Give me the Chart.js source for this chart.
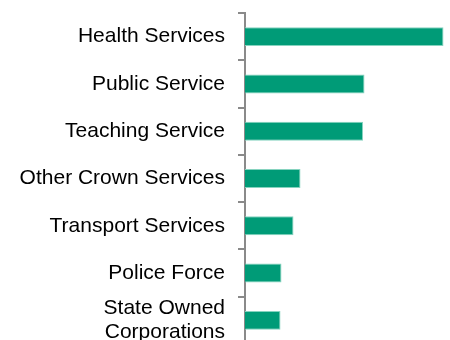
<!DOCTYPE html>
<html>
<head>
<meta charset="utf-8">
<script src="https://cdn.jsdelivr.net/npm/chart.js@4/dist/chart.umd.min.js"></script>
<style>
  html, body { margin: 0; padding: 0; background: #fff; overflow: hidden; }
  #wrap { width: 450px; height: 344px; }
</style>
</head>
<body>
<div id="wrap"><canvas id="sectorChart" width="450" height="344"></canvas></div>
<script>
// sectors, top to bottom
const sectors = [
  'Health Services',
  'Public Service',
  'Teaching Service',
  'Other Crown Services',
  'Transport Services',
  'Police Force',
  ['State Owned', 'Corporations']
];
const values = [39.7, 23.9, 23.6, 11.1, 9.7, 7.3, 7.1];
const xMax = 41;

const axisGrey = '#8a8a8a';

const ctx = document.getElementById('sectorChart').getContext('2d');
new Chart(ctx, {
  type: 'bar',
  data: {
    labels: sectors,
    datasets: [{
      data: values,
      backgroundColor: '#009b77',
      borderColor: '#86d3bf',
      borderWidth: 1,
      categoryPercentage: 1,
      barPercentage: 0.4
    }]
  },
  options: {
    indexAxis: 'y',
    responsive: false,
    animation: false,
    layout: { padding: { top: 13, right: 0, bottom: 0, left: 0 } },
    plugins: {
      legend: { display: false },
      tooltip: { enabled: false }
    },
    scales: {
      x: { display: false, min: 0, max: xMax },
      y: {
        // fixed label column, and no extra room reserved for the end labels
        afterFit: function(scale) {
          scale.width = 245;
          scale.paddingTop = 0;
          scale.paddingBottom = 0;
        },
        border: { display: true, color: axisGrey, width: 2 },
        grid: { drawOnChartArea: false, drawTicks: true, tickLength: 7, color: axisGrey, lineWidth: 2 },
        ticks: {
          autoSkip: false,
          color: '#000',
          padding: 13,
          font: { family: "'Liberation Sans', Arial, sans-serif", size: 21, lineHeight: 1.15 }
        }
      }
    }
  }
});
</script>
</body>
</html>
